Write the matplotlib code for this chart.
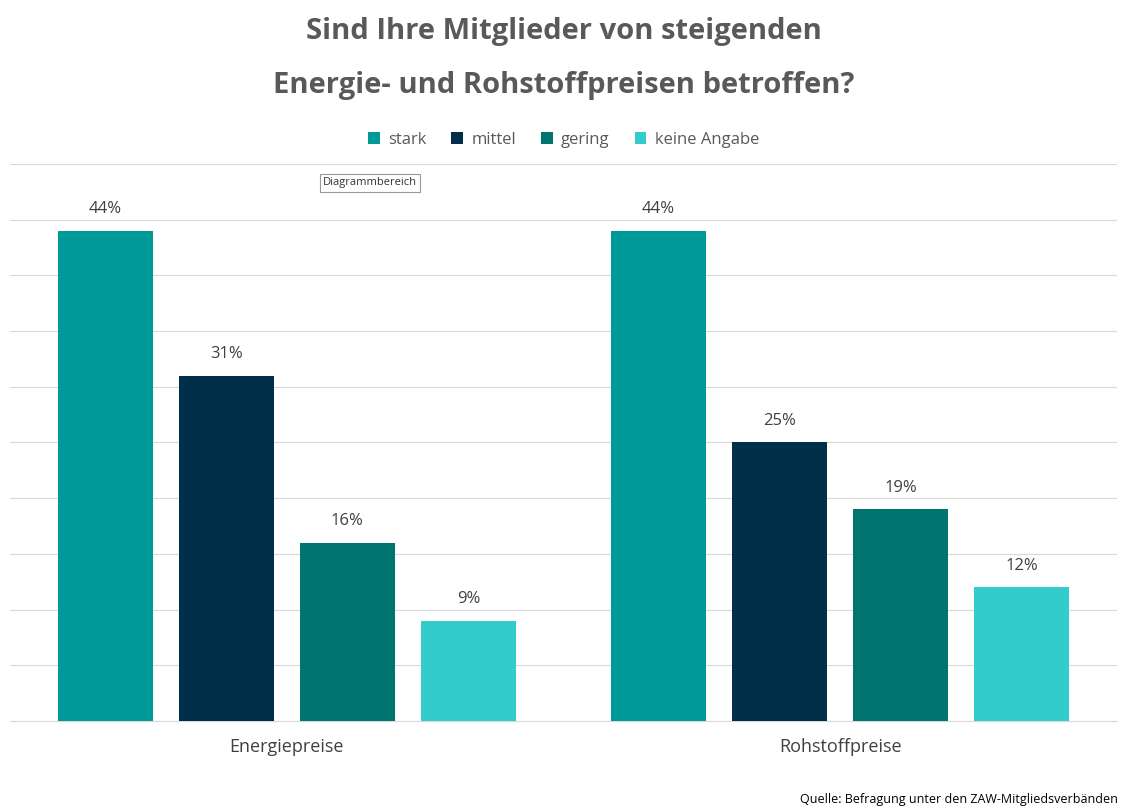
import numpy as np
import matplotlib.pyplot as plt

plt.rcParams['font.family'] = ['Open Sans', 'DejaVu Sans']

categories = ['Energiepreise', 'Rohstoffpreise']
series = ['stark', 'mittel', 'gering', 'keine Angabe']
values = {
    'stark': [44, 44],
    'mittel': [31, 25],
    'gering': [16, 19],
    'keine Angabe': [9, 12],
}
colors = ['#009999', '#003049', '#00756F', '#33CCCC']

fig = plt.figure(figsize=(11.27, 8.11), dpi=100)
ax = fig.add_axes([10 / 1127, 90 / 811, 1107 / 1127, 557 / 811])

x = np.arange(len(categories))
step = 0.2187
width = 0.172
for i, s in enumerate(series):
    pos = x + (i - 1.5) * step
    bars = ax.bar(pos, values[s], width, color=colors[i], label=s, zorder=3)
    for b, v in zip(bars, values[s]):
        ax.text(b.get_x() + b.get_width() / 2, v + 1.2, '%d%%' % v,
                ha='center', va='bottom', fontsize=12, color='#404040')

ax.set_xlim(-0.5, 1.5)
ax.set_ylim(0, 50)
ax.set_yticks(np.arange(0, 51, 5))
ax.set_yticklabels([])
ax.tick_params(axis='y', length=0)
ax.tick_params(axis='x', length=0, labelsize=13, labelcolor='#404040', pad=12)
ax.set_xticks(x)
ax.set_xticklabels(categories)
ax.grid(axis='y', color='#d9d9d9', linewidth=0.8, zorder=0)
for sp in ['top', 'left', 'right']:
    ax.spines[sp].set_visible(False)
ax.spines['bottom'].set_color('#d9d9d9')

fig.text(0.5, 1 - 32 / 811, 'Sind Ihre Mitglieder von steigenden', ha='center', va='center',
         fontsize=21, fontweight='bold', color='#595959')
fig.text(0.5, 1 - 85 / 811, 'Energie- und Rohstoffpreisen betroffen?', ha='center', va='center',
         fontsize=21, fontweight='bold', color='#595959')
fig.legend(loc='center', bbox_to_anchor=(0.5, 1 - 140 / 811), ncol=4, frameon=False,
           fontsize=12, handlelength=0.7, handleheight=0.7, columnspacing=1.5,
           handletextpad=0.5, labelcolor='#595959')
fig.text(370 / 1127, 1 - 183 / 811, 'Diagrammbereich', ha='center', va='center', fontsize=8,
         color='#333333', bbox=dict(boxstyle='square,pad=0.3', fc='white', ec='#999999', lw=0.8))
fig.text(1118 / 1127, 1 - 799 / 811, 'Quelle: Befragung unter den ZAW-Mitgliedsverbänden',
         ha='right', va='center', fontsize=9, color='#000000')

fig.savefig('out.png', dpi=100)
